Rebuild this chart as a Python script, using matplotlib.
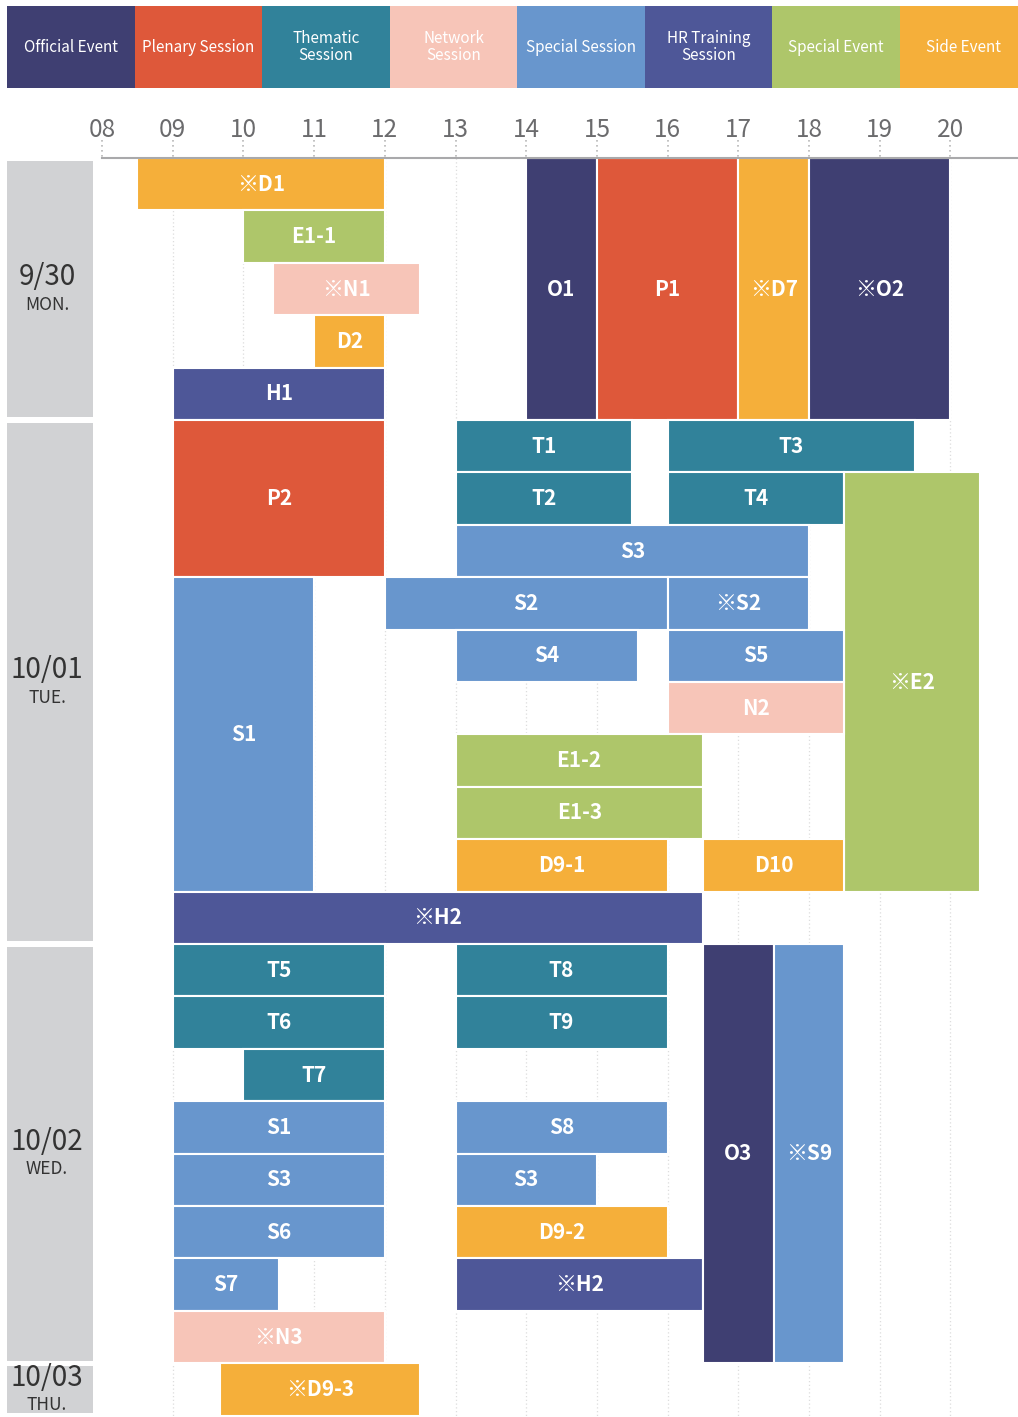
"""
Conference programme grid (9/30 - 10/03): sessions laid out by hour and row,
coloured by session type, with a colour key across the top.
"""
import matplotlib
matplotlib.use("Agg")
import matplotlib.pyplot as plt

# ----- session types (key across the top) -----
type_keys = ["O", "P", "T", "N", "S", "H", "E", "D"]
type_names = ["Official Event", "Plenary Session", "Thematic\nSession", "Network\nSession",
              "Special Session", "HR Training\nSession", "Special Event", "Side Event"]
type_colors = ["#3f3f72", "#de583a", "#31829a", "#f7c5b8",
               "#6896cd", "#4e5798", "#aec66a", "#f5af3a"]

# ----- time axis -----
hours = list(range(8, 21))
hour_labels = [f"{h:02d}" for h in hours]

# ----- days (rows of the grid) -----
day_dates = ["9/30", "10/01", "10/02", "10/03"]
day_names = ["MON.", "TUE.", "WED.", "THU."]
day_first_row = [0, 5, 15, 23]
day_row_count = [5, 10, 8, 1]

# ----- sessions -----
sess_labels = ["※D1", "E1-1", "※N1", "D2", "H1", "O1", "P1", "※D7", "※O2",
               "P2", "S1", "T1", "T3", "T2", "T4", "※E2", "S3", "S2", "※S2",
               "S4", "S5", "N2", "E1-2", "E1-3", "D9-1", "D10", "※H2",
               "T5", "T6", "T7", "S1", "S3", "S6", "S7", "※N3",
               "T8", "T9", "S8", "S3", "D9-2", "※H2", "O3", "※S9",
               "※D9-3"]
sess_types = ["D", "E", "N", "D", "H", "O", "P", "D", "O",
              "P", "S", "T", "T", "T", "T", "E", "S", "S", "S",
              "S", "S", "N", "E", "E", "D", "D", "H",
              "T", "T", "T", "S", "S", "S", "S", "N",
              "T", "T", "S", "S", "D", "H", "O", "S",
              "D"]
sess_start = ["08:30", "10:00", "10:25", "11:00", "09:00", "14:00", "15:00", "17:00", "18:00",
              "09:00", "09:00", "13:00", "16:00", "13:00", "16:00", "18:30", "13:00", "12:00", "16:00",
              "13:00", "16:00", "16:00", "13:00", "13:00", "13:00", "16:30", "09:00",
              "09:00", "09:00", "10:00", "09:00", "09:00", "09:00", "09:00", "09:00",
              "13:00", "13:00", "13:00", "13:00", "13:00", "13:00", "16:30", "17:30",
              "09:40"]
sess_end = ["12:00", "12:00", "12:30", "12:00", "12:00", "15:00", "17:00", "18:00", "20:00",
            "12:00", "11:00", "15:30", "19:30", "15:30", "18:30", "20:25", "18:00", "16:00", "18:00",
            "15:35", "18:30", "18:30", "16:30", "16:30", "16:00", "18:30", "16:30",
            "12:00", "12:00", "12:00", "12:00", "12:00", "12:00", "10:30", "12:00",
            "16:00", "16:00", "16:00", "15:00", "16:00", "16:30", "17:30", "18:30",
            "12:30"]
sess_row = [0, 1, 2, 3, 4, 0, 0, 0, 0,
            5, 8, 5, 5, 6, 6, 6, 7, 8, 8,
            9, 9, 10, 11, 12, 13, 13, 14,
            15, 16, 17, 18, 19, 20, 21, 22,
            15, 16, 18, 19, 20, 21, 15, 15,
            23]
sess_span = [1, 1, 1, 1, 1, 5, 5, 5, 5,
             3, 6, 1, 1, 1, 1, 8, 1, 1, 1,
             1, 1, 1, 1, 1, 1, 1, 1,
             1, 1, 1, 1, 1, 1, 1, 1,
             1, 1, 1, 1, 1, 1, 8, 8,
             1]


def to_hours(t):
    h, m = t.split(":")
    return int(h) + int(m) / 60


# ----- layout (pixels of the 1018 x 1417 output) -----
FIG_W, FIG_H = 1018, 1417
X08, PX_HOUR = 102, 70.7      # x of the 08 tick, pixels per hour
Y_AXIS, ROW_PX = 158, 52.4    # y of the time axis, pixels per row
LEFT, TOP_MAIN = 7, 100

CJK = ["Noto Sans CJK KR", "DejaVu Sans"]
color_of = dict(zip(type_keys, type_colors))

fig = plt.figure(figsize=(FIG_W / 100, FIG_H / 100), dpi=100)

# ----- colour key -----
axk = fig.add_axes([LEFT / FIG_W, 1 - 88 / FIG_H, (FIG_W - LEFT) / FIG_W, 82 / FIG_H])
cell_px = 127.57
axk.set_xlim(0, (FIG_W - LEFT) / cell_px)
axk.set_ylim(0, 1)
axk.axis("off")
axk.bar(range(len(type_names)), 1, width=1, bottom=0, align="edge", color=type_colors, linewidth=0)
for i, name in enumerate(type_names):
    axk.text(i + 0.5, 0.5, name, ha="center", va="center", color="white",
             fontsize=11, family=CJK, fontweight="light", linespacing=1.05)

# ----- main grid -----
ax = fig.add_axes([LEFT / FIG_W, 0, (FIG_W - LEFT) / FIG_W, (FIG_H - TOP_MAIN) / FIG_H])
ax.set_xlim(8 - (X08 - LEFT) / PX_HOUR, 8 + (FIG_W - X08) / PX_HOUR)
ax.set_ylim((FIG_H - Y_AXIS) / ROW_PX, -(Y_AXIS - TOP_MAIN) / ROW_PX)
for side in ["left", "right", "bottom"]:
    ax.spines[side].set_visible(False)
top = ax.spines["top"]
top.set_position(("data", 0))
top.set_bounds(8, ax.get_xlim()[1])
top.set_color("#a9a9ab")
top.set_linewidth(1.5)
top.set_zorder(6)
ax.set_yticks([])
ax.xaxis.tick_top()
ax.set_xticks(hours)
ax.set_xticklabels(hour_labels)
ax.tick_params(axis="x", length=0, pad=11, labelsize=17.5, labelcolor="#6b6b6d")
for lab in ax.get_xticklabels():
    lab.set_family(CJK)
    lab.set_fontweight("light")

# dotted hour marks above the axis and faint guides through the grid
ax.vlines(hours, -0.34, 0, colors="#b8b8b8", linestyles=(0, (1, 2)), linewidth=1.2, zorder=1)
ax.vlines(hours[1:], 0, ax.get_ylim()[0], colors="#dddddd", linestyles=(0, (1, 2)),
          linewidth=0.9, zorder=1)

# day column
col_left = ax.get_xlim()[0]
col_w = 86 / PX_HOUR
for date, name, r0, n in zip(day_dates, day_names, day_first_row, day_row_count):
    ax.barh(r0 + n / 2, col_w, left=col_left, height=n - 0.1, color="#d1d2d4", linewidth=0, zorder=2)
    cx = col_left + col_w / 2 - 3 / PX_HOUR
    ax.text(cx, r0 + n / 2 - 0.22, date, ha="center", va="center", fontsize=20,
            color="#333333", family=CJK, fontweight="light")
    ax.text(cx, r0 + n / 2 + 0.3, name, ha="center", va="center", fontsize=12.5,
            color="#333333", family=CJK, fontweight="light")

# session blocks
starts = [to_hours(t) for t in sess_start]
ends = [to_hours(t) for t in sess_end]
widths = [e - s for s, e in zip(starts, ends)]
centers = [r + n / 2 for r, n in zip(sess_row, sess_span)]
ax.barh(centers, widths, left=starts, height=sess_span,
        color=[color_of[t] for t in sess_types], edgecolor="white", linewidth=1.5, zorder=3)
for label, s, w, c in zip(sess_labels, starts, widths, centers):
    ax.text(s + w / 2, c, label, ha="center", va="center", color="white",
            fontsize=15, fontweight="bold", family=CJK, zorder=4)

fig.savefig("out.png", dpi=100)
